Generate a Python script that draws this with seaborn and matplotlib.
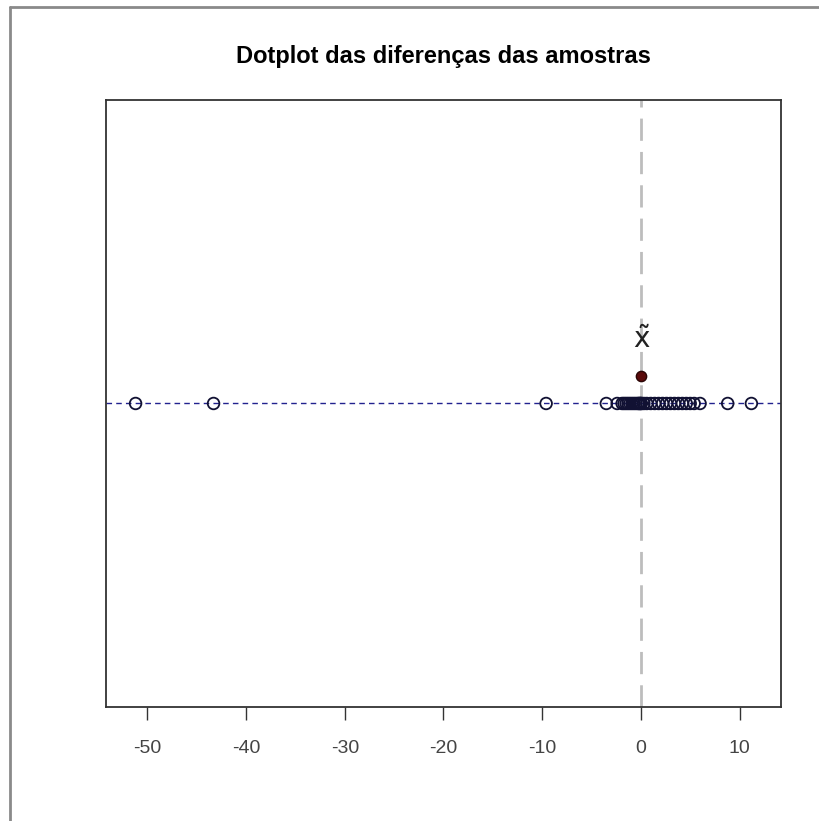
import numpy as np
import pandas as pd
import matplotlib
matplotlib.use('Agg')
import matplotlib.pyplot as plt
import seaborn as sns
from matplotlib.lines import Line2D

# --- DATA ---
diffs = [-51.2, -43.3, -9.6, -3.5, -2.4, -1.9, -1.7, -1.5, -1.3, -1.1, -0.9,
         -0.7, -0.5, -0.3, -0.2, -0.1, 0.0, 0.05, 0.3, 0.6, 1.0, 1.4, 1.8,
         2.2, 2.6, 3.0, 3.4, 3.8, 4.2, 4.6, 5.0, 5.4, 6.0, 8.8, 11.2]
x_ticks = [-50, -40, -30, -20, -10, 0, 10]
titulo = 'Dotplot das diferenças das amostras'

df = pd.DataFrame({'dif': diffs, 'y': 0.0})
mediana = np.median(diffs)

sns.set_style('white')
plt.rcParams['font.family'] = ['Liberation Sans', 'DejaVu Sans']

fig = plt.figure(figsize=(8.19, 8.21), dpi=100)
ax = fig.add_axes([0.1294, 0.1389, 0.8242, 0.7393])

# reference lines
ax.axhline(0, color='#22228f', lw=1, ls=(0, (4, 3)), zorder=1)
ax.axvline(mediana, color='#bdbdbd', lw=2, ls=(0, (8, 4)), zorder=0)

sns.scatterplot(data=df, x='dif', y='y', ax=ax, marker='o', s=70,
                facecolor='none', edgecolor='#111133', linewidth=1.3, zorder=3)

# median marker + label
ax.scatter([mediana], [0.09], s=55, color='#5a0a0a', edgecolor='#2a0505', zorder=4)
ax.text(mediana, 0.21, r'$\tilde{\mathrm{x}}$', ha='center', va='center',
        fontsize=20, color='#222222')

ax.set_xlim(-54.2, 14.2)
ax.set_ylim(-1, 1)
ax.set_xticks(x_ticks)
ax.set_xticklabels([str(t) for t in x_ticks])
ax.set_yticks([])
ax.set_xlabel('')
ax.set_ylabel('')
ax.tick_params(axis='x', bottom=True, length=9, width=1, color='#333333',
               labelsize=14, labelcolor='#444444', pad=15)
for sp in ax.spines.values():
    sp.set_color('#333333')
    sp.set_linewidth(1.3)

fig.text(0.5415, 0.931, titulo, ha='center', va='center', fontsize=17,
         fontweight='bold', color='black')

# screenshot frame (left and top edges)
fig.add_artist(Line2D([10 / 819, 10 / 819], [0, 1 - 7 / 821], color='#8a8a8a', lw=2))
fig.add_artist(Line2D([10 / 819, 1], [1 - 7 / 821, 1 - 7 / 821], color='#8a8a8a', lw=2))

fig.savefig('out.png', dpi=100)
